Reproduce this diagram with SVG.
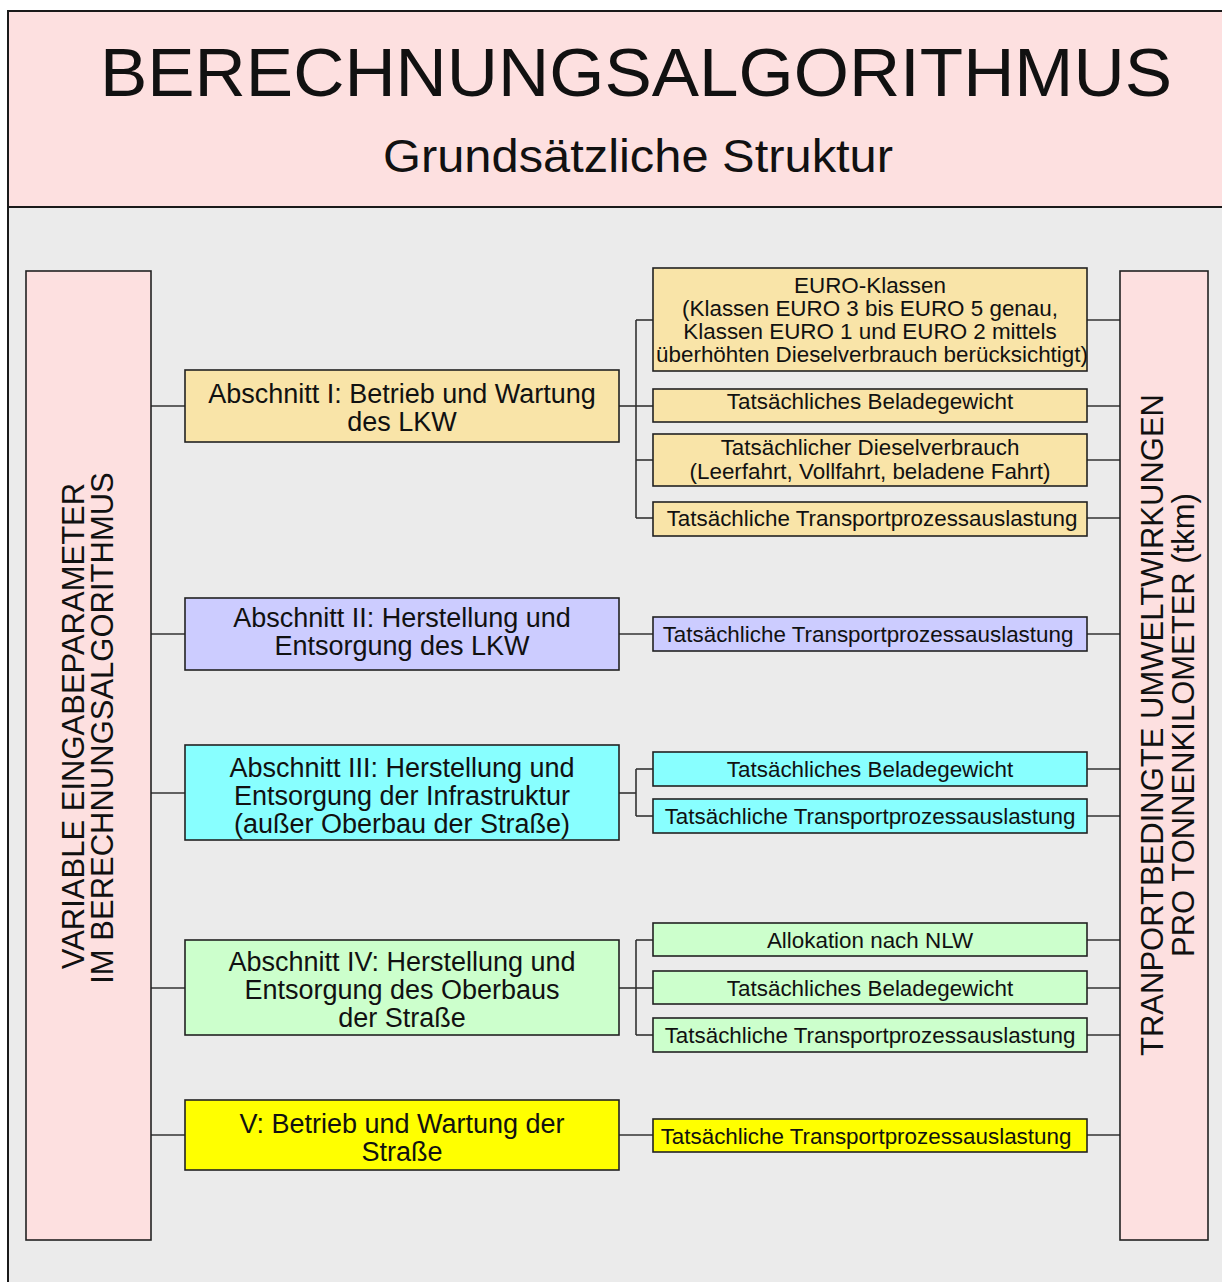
<svg xmlns="http://www.w3.org/2000/svg" width="1222" height="1282" viewBox="0 0 1222 1282">
  <style>
    text { font-family: "Liberation Sans", Arial, sans-serif; fill: #111; }
    .frame { stroke: #1a1a1a; stroke-width: 2; }
    .box { stroke: #222; stroke-width: 1.6; }
    .col { fill: #fde0e0; stroke: #222; stroke-width: 1.6; }
    .tan { fill: #f9e4a8; }
    .lilac { fill: #ccccff; }
    .cyan { fill: #88ffff; }
    .green { fill: #ccffcc; }
    .yellow { fill: #ffff00; }
    .main { font-size: 27px; text-anchor: middle; }
    .sub { font-size: 22.4px; text-anchor: middle; }
    .vert { font-size: 31px; text-anchor: middle; }
    .links line { stroke: #333; stroke-width: 1.6; }
  </style>

  <!-- page frame: pink title band above, grey working area below -->
  <rect x="0" y="0" width="1222" height="1282" fill="#ffffff"/>
  <rect class="frame" x="8" y="11" width="1230" height="1290" fill="#ebebeb"/>
  <rect class="frame" x="8" y="11" width="1230" height="196" fill="#fde0e0"/>

  <g id="title">
    <text x="636" y="96" font-size="68" text-anchor="middle" textLength="1072" lengthAdjust="spacingAndGlyphs">BERECHNUNGSALGORITHMUS</text>
    <text x="638" y="172" font-size="47" text-anchor="middle" textLength="510" lengthAdjust="spacingAndGlyphs">Grundsätzliche Struktur</text>
  </g>

  <!-- connectors -->
  <g id="connectors" class="links">
    <!-- left column to sections -->
    <line x1="151" y1="406" x2="185" y2="406"/>
    <line x1="151" y1="634" x2="185" y2="634"/>
    <line x1="151" y1="793" x2="185" y2="793"/>
    <line x1="151" y1="988" x2="185" y2="988"/>
    <line x1="151" y1="1135" x2="185" y2="1135"/>
    <!-- section I bracket -->
    <line x1="619" y1="406" x2="636" y2="406"/>
    <line x1="636" y1="320" x2="636" y2="518"/>
    <line x1="636" y1="320" x2="653" y2="320"/>
    <line x1="636" y1="406" x2="653" y2="406"/>
    <line x1="636" y1="460" x2="653" y2="460"/>
    <line x1="636" y1="518" x2="653" y2="518"/>
    <!-- section II -->
    <line x1="619" y1="634" x2="653" y2="634"/>
    <!-- section III bracket -->
    <line x1="619" y1="793" x2="636" y2="793"/>
    <line x1="636" y1="769" x2="636" y2="816"/>
    <line x1="636" y1="769" x2="653" y2="769"/>
    <line x1="636" y1="816" x2="653" y2="816"/>
    <!-- section IV bracket -->
    <line x1="619" y1="988" x2="636" y2="988"/>
    <line x1="636" y1="940" x2="636" y2="1035"/>
    <line x1="636" y1="940" x2="653" y2="940"/>
    <line x1="636" y1="988" x2="653" y2="988"/>
    <line x1="636" y1="1035" x2="653" y2="1035"/>
    <!-- section V -->
    <line x1="619" y1="1135" x2="653" y2="1135"/>
    <!-- parameters to right column -->
    <line x1="1087" y1="320" x2="1120" y2="320"/>
    <line x1="1087" y1="406" x2="1120" y2="406"/>
    <line x1="1087" y1="460" x2="1120" y2="460"/>
    <line x1="1087" y1="518" x2="1120" y2="518"/>
    <line x1="1087" y1="634" x2="1120" y2="634"/>
    <line x1="1087" y1="769" x2="1120" y2="769"/>
    <line x1="1087" y1="816" x2="1120" y2="816"/>
    <line x1="1087" y1="940" x2="1120" y2="940"/>
    <line x1="1087" y1="988" x2="1120" y2="988"/>
    <line x1="1087" y1="1035" x2="1120" y2="1035"/>
    <line x1="1087" y1="1135" x2="1120" y2="1135"/>
  </g>

  <!-- side columns -->
  <g id="input-params">
    <rect class="col" x="26" y="271" width="125" height="969"/>
    <g transform="translate(84,726) rotate(-90)">
      <text class="vert" x="0" y="0">VARIABLE EINGABEPARAMETER</text>
    </g>
    <g transform="translate(113,728) rotate(-90)">
      <text class="vert" x="0" y="0">IM BERECHNUNGSALGORITHMUS</text>
    </g>
  </g>

  <g id="environmental-impacts">
    <rect class="col" x="1120" y="271" width="88" height="969"/>
    <g transform="translate(1163,725) rotate(-90)">
      <text class="vert" x="0" y="0">TRANPORTBEDINGTE UMWELTWIRKUNGEN</text>
    </g>
    <g transform="translate(1194,725) rotate(-90)">
      <text class="vert" x="0" y="0">PRO TONNENKILOMETER (tkm)</text>
    </g>
  </g>

  <!-- Section I -->
  <g id="section-1">
    <rect class="box tan" x="185" y="370" width="434" height="72"/>
    <text class="main" x="402" y="403">Abschnitt I: Betrieb und Wartung</text>
    <text class="main" x="402" y="431">des LKW</text>
  </g>
  <g id="s1-euro">
    <rect class="box tan" x="653" y="268" width="434" height="103"/>
    <text class="sub" x="870" y="293">EURO-Klassen</text>
    <text class="sub" x="870" y="316">(Klassen EURO 3 bis EURO 5 genau,</text>
    <text class="sub" x="870" y="339">Klassen EURO 1 und EURO 2 mittels</text>
    <text class="sub" x="872" y="362">überhöhten Dieselverbrauch berücksichtigt)</text>
  </g>
  <g id="s1-load">
    <rect class="box tan" x="653" y="389" width="434" height="33"/>
    <text class="sub" x="870" y="409">Tatsächliches Beladegewicht</text>
  </g>
  <g id="s1-diesel">
    <rect class="box tan" x="653" y="434" width="434" height="52"/>
    <text class="sub" x="870" y="455">Tatsächlicher Dieselverbrauch</text>
    <text class="sub" x="870" y="479">(Leerfahrt, Vollfahrt, beladene Fahrt)</text>
  </g>
  <g id="s1-utilisation">
    <rect class="box tan" x="653" y="502" width="434" height="34"/>
    <text class="sub" x="872" y="526">Tatsächliche Transportprozessauslastung</text>
  </g>

  <!-- Section II -->
  <g id="section-2">
    <rect class="box lilac" x="185" y="598" width="434" height="72"/>
    <text class="main" x="402" y="627">Abschnitt II: Herstellung und</text>
    <text class="main" x="402" y="655">Entsorgung des LKW</text>
  </g>
  <g id="s2-utilisation">
    <rect class="box lilac" x="653" y="617" width="434" height="34"/>
    <text class="sub" x="868" y="642">Tatsächliche Transportprozessauslastung</text>
  </g>

  <!-- Section III -->
  <g id="section-3">
    <rect class="box cyan" x="185" y="745" width="434" height="95"/>
    <text class="main" x="402" y="777">Abschnitt III: Herstellung und</text>
    <text class="main" x="402" y="805">Entsorgung der Infrastruktur</text>
    <text class="main" x="402" y="833">(außer Oberbau der Straße)</text>
  </g>
  <g id="s3-load">
    <rect class="box cyan" x="653" y="752" width="434" height="34"/>
    <text class="sub" x="870" y="777">Tatsächliches Beladegewicht</text>
  </g>
  <g id="s3-utilisation">
    <rect class="box cyan" x="653" y="799" width="434" height="34"/>
    <text class="sub" x="870" y="824">Tatsächliche Transportprozessauslastung</text>
  </g>

  <!-- Section IV -->
  <g id="section-4">
    <rect class="box green" x="185" y="940" width="434" height="95"/>
    <text class="main" x="402" y="971">Abschnitt IV: Herstellung und</text>
    <text class="main" x="402" y="999">Entsorgung des Oberbaus</text>
    <text class="main" x="402" y="1027">der Straße</text>
  </g>
  <g id="s4-allocation">
    <rect class="box green" x="653" y="923" width="434" height="33"/>
    <text class="sub" x="870" y="948">Allokation nach NLW</text>
  </g>
  <g id="s4-load">
    <rect class="box green" x="653" y="971" width="434" height="33"/>
    <text class="sub" x="870" y="996">Tatsächliches Beladegewicht</text>
  </g>
  <g id="s4-utilisation">
    <rect class="box green" x="653" y="1018" width="434" height="34"/>
    <text class="sub" x="870" y="1043">Tatsächliche Transportprozessauslastung</text>
  </g>

  <!-- Section V -->
  <g id="section-5">
    <rect class="box yellow" x="185" y="1100" width="434" height="70"/>
    <text class="main" x="402" y="1133">V: Betrieb und Wartung der</text>
    <text class="main" x="402" y="1161">Straße</text>
  </g>
  <g id="s5-utilisation">
    <rect class="box yellow" x="653" y="1119" width="434" height="33"/>
    <text class="sub" x="866" y="1144">Tatsächliche Transportprozessauslastung</text>
  </g>
</svg>
